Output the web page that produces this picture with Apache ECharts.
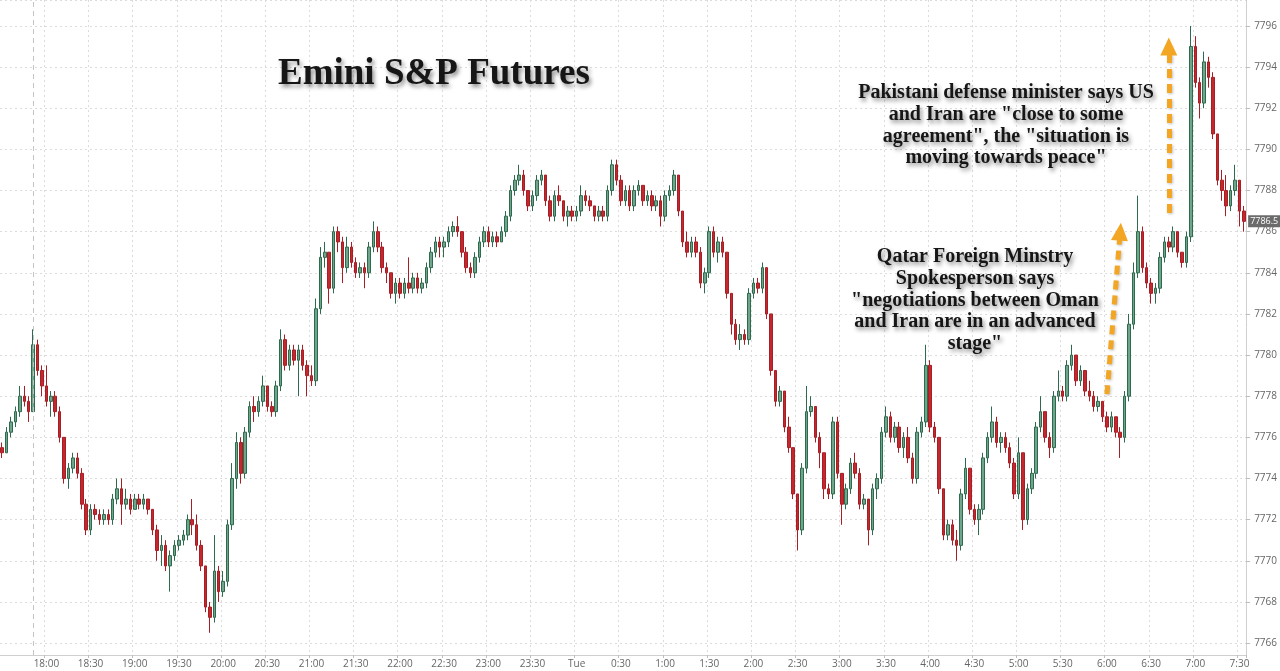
<!DOCTYPE html>
<html>
<head>
<meta charset="utf-8">
<script src="https://cdn.jsdelivr.net/npm/echarts/dist/echarts.min.js"></script>
<style>
html,body{margin:0;padding:0;background:#fff;}
#chart{width:1280px;height:671px;}
</style>
</head>
<body>
<div id="chart"></div>
<script>
// 3-minute bars, first bar at 17:30 (pre-session bars), session break marked at 17:51
const startMinutes = 17 * 60 + 30;
const barMinutes = 3;

const tickLabels = ['18:00','18:30','19:00','19:30','20:00','20:30','21:00','21:30','22:00','22:30','23:00','23:30',
  '0:00','0:30','1:00','1:30','2:00','2:30','3:00','3:30','4:00','4:30','5:00','5:30','6:00','6:30','7:00','7:30'];

const opens = [
7775.5,7775.25,7776.25,7776.75,7777.25,7778.0,7777.75,7777.25,7780.5,7779.25,
7778.5,7777.75,7778.0,7777.25,7776.0,7774.0,7774.5,7775.0,7774.25,7772.75,
7771.5,7772.5,7772.25,7772.0,7772.25,7772.0,7773.0,7773.5,7772.75,7773.0,
7772.5,7773.0,7772.75,7773.0,7772.5,7771.5,7770.5,7770.75,7769.75,7770.25,
7770.75,7771.0,7771.25,7772.0,7771.75,7770.75,7769.75,7767.75,7767.25,7769.5,
7768.5,7769.0,7771.75,7774.0,7775.75,7774.25,7776.25,7777.5,7777.25,7777.75,
7778.5,7777.5,7777.25,7778.5,7780.75,7779.5,7780.25,7779.75,7780.25,7779.5,
7779.0,7778.75,7782.25,7784.75,7785.0,7783.25,7786.0,7785.5,7784.25,7785.25,
7784.5,7784.0,7784.25,7784.0,7785.25,7786.0,7785.25,7784.25,7784.0,7783.0,
7783.5,7783.0,7783.5,7783.25,7783.75,7783.25,7783.5,7784.25,7785.0,7785.5,
7785.25,7785.5,7786.0,7786.25,7786.0,7785.0,7784.25,7784.0,7784.75,7785.5,
7786.0,7785.5,7785.75,7785.5,7786.0,7786.75,7788.0,7788.5,7788.75,7788.0,
7787.25,7787.75,7788.5,7788.75,7787.5,7786.75,7787.75,7787.5,7786.75,7787.0,
7786.75,7787.0,7787.75,7787.5,7787.25,7786.75,7787.0,7786.75,7788.0,7789.25,
7788.5,7787.5,7788.0,7787.25,7788.0,7788.25,7787.5,7787.75,7787.25,7787.5,
7786.75,7787.75,7788.0,7788.75,7787.0,7785.5,7785.0,7785.5,7785.0,7783.5,
7784.0,7786.0,7785.0,7785.5,7785.0,7783.0,7781.5,7780.75,7781.0,7780.75,
7783.0,7783.5,7783.25,7784.25,7782.0,7779.25,7777.75,7778.25,7776.5,7775.5,
7773.25,7771.5,7774.5,7777.25,7777.5,7776.0,7775.25,7773.5,7773.25,7776.75,
7774.25,7772.75,7773.5,7774.75,7774.25,7772.75,7773.0,7771.5,7773.5,7774.0,
7776.25,7777.0,7776.0,7776.5,7775.5,7776.0,7775.0,7774.0,7776.25,7776.75,
7779.5,7776.5,7776.0,7773.5,7771.25,7771.75,7771.0,7770.75,7773.25,7774.5,
7772.5,7772.0,7772.5,7775.0,7776.0,7776.75,7775.75,7776.0,7775.5,7774.75,
7773.25,7775.25,7772.0,7773.5,7774.25,7776.5,7777.25,7776.0,7775.5,7778.0,
7778.25,7778.0,7779.5,7780.0,7778.75,7779.25,7778.25,7778.0,7777.5,7777.75,
7777.0,7776.5,7777.0,7776.25,7776.0,7778.0,7781.5,7784.0,7786.0,7784.25,
7783.5,7783.0,7783.25,7784.75,7785.5,7785.25,7786.0,7785.0,7784.5,7785.75,
7795.0,7793.25,7792.25,7794.25,7793.5,7790.75,7788.5,7788.0,7787.25,7788.0,
7788.5,7787.0
];

const closes = [
7775.25,7776.25,7776.75,7777.25,7778.0,7777.75,7777.25,7780.5,7779.25,7778.5,
7777.75,7778.0,7777.25,7776.0,7774.0,7774.5,7775.0,7774.25,7772.75,7771.5,
7772.5,7772.25,7772.0,7772.25,7772.0,7773.0,7773.5,7772.75,7773.0,7772.5,
7773.0,7772.75,7773.0,7772.5,7771.5,7770.5,7770.75,7769.75,7770.25,7770.75,
7771.0,7771.25,7772.0,7771.75,7770.75,7769.75,7767.75,7767.25,7769.5,7768.5,
7769.0,7771.75,7774.0,7775.75,7774.25,7776.25,7777.5,7777.25,7777.75,7778.5,
7777.5,7777.25,7778.5,7780.75,7779.5,7780.25,7779.75,7780.25,7779.5,7779.0,
7778.75,7782.25,7784.75,7785.0,7783.25,7786.0,7785.5,7784.25,7785.25,7784.5,
7784.0,7784.25,7784.0,7785.25,7786.0,7785.25,7784.25,7784.0,7783.0,7783.5,
7783.0,7783.5,7783.25,7783.75,7783.25,7783.5,7784.25,7785.0,7785.5,7785.25,
7785.5,7786.0,7786.25,7786.0,7785.0,7784.25,7784.0,7784.75,7785.5,7786.0,
7785.5,7785.75,7785.5,7786.0,7786.75,7788.0,7788.5,7788.75,7788.0,7787.25,
7787.75,7788.5,7788.75,7787.5,7786.75,7787.75,7787.5,7786.75,7787.0,7786.75,
7787.0,7787.75,7787.5,7787.25,7786.75,7787.0,7786.75,7788.0,7789.25,7788.5,
7787.5,7788.0,7787.25,7788.0,7788.25,7787.5,7787.75,7787.25,7787.5,7786.75,
7787.75,7788.0,7788.75,7787.0,7785.5,7785.0,7785.5,7785.0,7783.5,7784.0,
7786.0,7785.0,7785.5,7785.0,7783.0,7781.5,7780.75,7781.0,7780.75,7783.0,
7783.5,7783.25,7784.25,7782.0,7779.25,7777.75,7778.25,7776.5,7775.5,7773.25,
7771.5,7774.5,7777.25,7777.5,7776.0,7775.25,7773.5,7773.25,7776.75,7774.25,
7772.75,7773.5,7774.75,7774.25,7772.75,7773.0,7771.5,7773.5,7774.0,7776.25,
7777.0,7776.0,7776.5,7775.5,7776.0,7775.0,7774.0,7776.25,7776.75,7779.5,
7776.5,7776.0,7773.5,7771.25,7771.75,7771.0,7770.75,7773.25,7774.5,7772.5,
7772.0,7772.5,7775.0,7776.0,7776.75,7775.75,7776.0,7775.5,7774.75,7773.25,
7775.25,7772.0,7773.5,7774.25,7776.5,7777.25,7776.0,7775.5,7778.0,7778.25,
7778.0,7779.5,7780.0,7778.75,7779.25,7778.25,7778.0,7777.5,7777.75,7777.0,
7776.5,7777.0,7776.25,7776.0,7778.0,7781.5,7784.0,7786.0,7784.25,7783.5,
7783.0,7783.25,7784.75,7785.5,7785.25,7786.0,7785.0,7784.5,7785.75,7795.0,
7793.25,7792.25,7794.25,7793.5,7790.75,7788.5,7788.0,7787.25,7788.0,7788.5,
7787.0,7786.5
];

const highs = [
7775.75,7776.5,7777.0,7777.5,7778.5,7778.5,7778.0,7781.25,7780.75,7779.5,
7779.5,7778.25,7778.25,7777.5,7776.0,7774.75,7775.25,7775.25,7774.5,7773.0,
7772.75,7772.75,7772.5,7772.5,7772.5,7773.25,7774.0,7774.0,7773.5,7773.25,
7773.25,7773.25,7773.25,7773.0,7772.5,7771.75,7771.25,7771.0,7770.5,7771.0,
7771.25,7771.5,7772.25,7773.0,7772.25,7771.0,7769.75,7768.0,7771.25,7769.75,
7769.5,7772.0,7774.75,7776.25,7776.0,7776.5,7777.75,7778.0,7778.0,7779.0,
7778.5,7777.75,7778.75,7781.25,7781.0,7780.5,7780.5,7780.5,7780.5,7779.75,
7779.5,7782.75,7785.25,7785.5,7785.0,7786.25,7786.25,7785.75,7785.75,7785.5,
7784.75,7784.5,7784.5,7785.5,7786.5,7786.25,7785.5,7784.5,7784.0,7783.75,
7783.75,7783.75,7784.75,7784.0,7784.0,7783.75,7784.5,7785.25,7785.75,7785.75,
7785.75,7786.25,7786.5,7786.75,7786.0,7785.25,7784.5,7785.0,7785.75,7786.25,
7786.25,7786.0,7786.0,7786.25,7787.0,7788.25,7788.75,7789.25,7789.0,7788.0,
7788.0,7788.75,7789.0,7788.75,7787.75,7788.0,7788.25,7787.5,7787.25,7787.25,
7787.25,7788.25,7788.0,7787.75,7787.25,7787.25,7787.25,7788.25,7789.5,7789.5,
7788.75,7788.25,7788.25,7788.25,7788.5,7788.25,7788.0,7788.0,7787.75,7787.75,
7788.0,7788.25,7789.0,7788.75,7787.0,7786.0,7785.75,7785.75,7785.25,7784.25,
7786.25,7786.25,7785.75,7785.75,7785.0,7783.0,7781.75,7781.5,7781.25,7783.25,
7783.75,7783.75,7784.5,7784.25,7782.0,7779.25,7778.5,7778.25,7777.0,7775.5,
7773.25,7774.75,7778.5,7778.0,7777.5,7776.25,7775.25,7773.75,7777.0,7777.0,
7774.25,7773.75,7775.0,7775.25,7774.5,7773.25,7773.0,7773.75,7774.25,7776.5,
7777.5,7777.25,7776.75,7776.75,7776.25,7776.5,7775.25,7776.5,7777.0,7780.5,
7779.75,7776.75,7776.0,7773.5,7772.0,7772.0,7771.5,7773.5,7775.0,7774.5,
7772.75,7772.75,7775.25,7776.25,7777.5,7777.0,7776.25,7776.25,7775.75,7775.0,
7776.0,7775.25,7773.75,7774.5,7776.75,7778.0,7777.25,7776.25,7778.25,7779.25,
7778.5,7779.75,7780.5,7780.0,7779.5,7779.25,7778.75,7778.25,7778.0,7777.75,
7777.25,7777.25,7777.0,7776.5,7778.25,7782.0,7784.5,7787.75,7786.25,7784.5,
7783.75,7783.5,7785.0,7785.75,7785.75,7786.25,7786.0,7785.0,7786.0,7796.0,
7795.5,7793.5,7794.75,7794.5,7793.75,7790.75,7789.0,7788.75,7788.25,7789.25,
7788.5,7787.25
];

const lows = [
7775.0,7775.25,7776.0,7776.5,7777.0,7777.5,7776.75,7777.25,7779.0,7778.0,
7777.5,7777.0,7777.0,7775.75,7773.75,7773.5,7774.25,7774.0,7772.5,7771.25,
7771.25,7772.0,7771.75,7771.75,7771.75,7771.75,7772.75,7771.75,7772.5,7772.25,
7772.5,7772.5,7772.5,7772.25,7771.25,7770.0,7769.75,7769.5,7768.5,7770.0,
7770.5,7770.75,7771.0,7771.25,7770.5,7769.5,7767.5,7766.5,7767.0,7768.0,
7768.25,7768.75,7771.5,7773.5,7773.75,7774.0,7776.0,7776.75,7777.0,7777.5,
7777.25,7777.0,7777.0,7778.25,7779.25,7779.25,7779.5,7778.0,7779.25,7778.0,
7778.5,7778.5,7782.0,7784.25,7782.5,7783.0,7785.0,7783.5,7784.0,7784.25,
7783.75,7783.75,7783.25,7783.75,7785.0,7785.0,7784.0,7783.5,7782.75,7782.5,
7782.75,7782.75,7783.0,7783.0,7783.0,7783.0,7783.25,7784.0,7784.75,7784.75,
7784.75,7785.25,7785.75,7785.75,7784.75,7784.0,7783.75,7783.75,7784.5,7785.25,
7785.25,7785.25,7785.25,7785.5,7785.75,7786.5,7787.75,7788.25,7787.75,7787.0,
7787.0,7787.5,7788.25,7787.25,7786.5,7786.5,7787.25,7786.5,7786.25,7786.5,
7786.5,7786.75,7787.25,7787.0,7786.5,7786.5,7786.5,7786.5,7787.75,7788.25,
7787.25,7787.25,7787.0,7787.0,7787.75,7787.25,7787.25,7787.0,7787.0,7786.25,
7786.5,7787.5,7787.75,7786.75,7785.25,7784.75,7784.75,7784.75,7783.25,7783.0,
7783.75,7784.75,7784.5,7784.75,7782.75,7781.0,7780.5,7780.25,7780.5,7780.5,
7782.75,7783.0,7783.0,7781.75,7779.0,7777.5,7777.5,7776.25,7775.25,7773.0,
7770.5,7771.25,7774.25,7777.0,7775.75,7774.5,7773.0,7773.0,7773.0,7774.0,
7771.75,7772.5,7773.25,7774.0,7772.5,7772.5,7770.75,7771.25,7773.0,7773.75,
7776.0,7775.75,7775.75,7775.25,7775.0,7774.75,7773.75,7773.75,7776.0,7776.5,
7776.25,7775.75,7773.25,7771.0,7771.0,7770.75,7770.0,7770.5,7773.0,7772.25,
7771.75,7771.25,7772.25,7774.75,7775.75,7775.5,7775.25,7775.25,7774.5,7773.0,
7773.0,7771.5,7771.75,7773.25,7774.0,7776.25,7775.75,7775.0,7775.25,7777.75,
7777.75,7777.75,7779.25,7778.5,7778.5,7778.0,7777.75,7777.25,7777.25,7776.75,
7776.25,7776.25,7776.0,7775.0,7775.75,7777.75,7781.25,7783.75,7784.0,7783.25,
7782.5,7782.5,7783.0,7784.5,7785.0,7785.0,7784.75,7784.25,7784.25,7785.5,
7793.0,7791.5,7792.0,7793.0,7790.5,7788.25,7787.5,7786.75,7787.0,7787.75,
7786.25,7786.0
];

const lastPrice = 7786.5;

// category labels: one per 3-minute bar
const categories = [];
for (let i = 0; i < closes.length; i++) {
  const m = (startMinutes + i * barMinutes) % (24 * 60);
  const h = Math.floor(m / 60);
  const mm = m % 60;
  categories.push(h + ':' + (mm < 10 ? '0' + mm : mm));
}
const candles = opens.map((o, i) => [o, closes[i], lows[i], highs[i]]);

const isTick = (idx, val) => tickLabels.indexOf(categories[idx]) >= 0;

const shadowText = {
  fill: '#161616',
  textShadowColor: 'rgba(0,0,0,0.45)',
  textShadowBlur: 4,
  textShadowOffsetX: 2,
  textShadowOffsetY: 3
};

const arrowStyle = { color: '#f2a623', width: 5, type: [9, 6], shadowColor: 'rgba(0,0,0,0.25)', shadowBlur: 3, shadowOffsetX: 1, shadowOffsetY: 1 };

const chart = echarts.init(document.getElementById('chart'));
chart.setOption({
  animation: false,
  backgroundColor: '#ffffff',
  grid: { left: 0, right: 33, top: 0, bottom: 16 },
  xAxis: {
    type: 'category',
    data: categories,
    boundaryGap: true,
    axisLine: { show: true, lineStyle: { color: '#cfcfcf' } },
    axisTick: { show: true, interval: isTick, length: 3, lineStyle: { color: '#bdbdbd' } },
    axisLabel: {
      interval: isTick,
      formatter: v => (v === '0:00' ? 'Tue' : v),
      color: '#666', fontSize: 10, fontFamily: 'Open Sans', margin: 4
    },
    splitLine: { show: true, interval: isTick, lineStyle: { color: '#dcdcdc', type: [2, 3] } }
  },
  yAxis: {
    type: 'value',
    position: 'right',
    min: 7765.42,
    max: 7797.26,
    splitNumber: 16,
    minInterval: 2,
    maxInterval: 2,
    scale: true,
    axisLine: { show: true, lineStyle: { color: '#cfcfcf' } },
    axisTick: { show: true, length: 4, lineStyle: { color: '#bdbdbd' } },
    axisLabel: {
      color: '#666', fontSize: 10, fontFamily: 'Open Sans', margin: 8,
      showMinLabel: false, showMaxLabel: false,
      formatter: v => (Math.abs(v - Math.round(v)) < 1e-6 && Math.round(v) % 2 === 0 ? String(Math.round(v)) : '')
    },
    splitLine: { show: true, lineStyle: { color: '#dcdcdc', type: [2, 3] } }
  },
  series: [{
    type: 'candlestick',
    data: candles,
    barWidth: '68%',
    itemStyle: {
      color: '#6ea58b',
      color0: '#c4282f',
      borderColor: '#2e6a4e',
      borderColor0: '#a81e25',
      borderWidth: 1
    },
    markLine: {
      silent: true,
      animation: false,
      symbol: ['none', 'none'],
      label: { show: false },
      data: [
        { xAxis: '17:51', lineStyle: { color: '#c4c4c4', type: [5, 4], width: 1 } },
        [
          { coord: ['6:00', 7778.1], symbol: 'none', lineStyle: arrowStyle },
          { coord: ['6:09', 7786.0], symbol: 'triangle', symbolSize: [17, 18], lineStyle: arrowStyle, itemStyle: { color: '#f2a623' } }
        ],
        [
          { coord: ['6:42', 7786.9], symbol: 'none', lineStyle: arrowStyle },
          { coord: ['6:42', 7795.0], symbol: 'triangle', symbolSize: [17, 18], lineStyle: arrowStyle, itemStyle: { color: '#f2a623' } }
        ]
      ]
    }
  }, {
    // last-price tag on the right axis
    type: 'line',
    data: [],
    markLine: {
      silent: true,
      animation: false,
      symbol: ['none', 'none'],
      lineStyle: { color: 'rgba(0,0,0,0)', width: 0 },
      data: [{ yAxis: lastPrice }],
      label: {
        show: true, position: 'end', distance: 2, formatter: String(lastPrice),
        backgroundColor: '#6b6b6b', color: '#ffffff', fontSize: 9, fontFamily: 'Open Sans',
        padding: [2, 2, 1, 2]
      }
    }
  }],
  graphic: [
    {
      type: 'text', left: 278, top: 56, z: 100,
      style: Object.assign({ text: 'Emini S&P Futures', font: 'bold 37px "Liberation Serif"' }, shadowText)
    },
    {
      type: 'text', x: 1006, y: 82, z: 100,
      style: Object.assign({
        text: 'Pakistani defense minister says US\nand Iran are "close to some\nagreement", the "situation is\nmoving towards peace"',
        font: 'bold 20px "Liberation Serif"', align: 'center', verticalAlign: 'top', lineHeight: 21.8
      }, shadowText)
    },
    {
      type: 'text', x: 975, y: 246, z: 100,
      style: Object.assign({
        text: 'Qatar Foreign Minstry\nSpokesperson says\n"negotiations between Oman\nand Iran are in an advanced\nstage"',
        font: 'bold 20px "Liberation Serif"', align: 'center', verticalAlign: 'top', lineHeight: 21.8
      }, shadowText)
    }
  ]
});
</script>
</body>
</html>
